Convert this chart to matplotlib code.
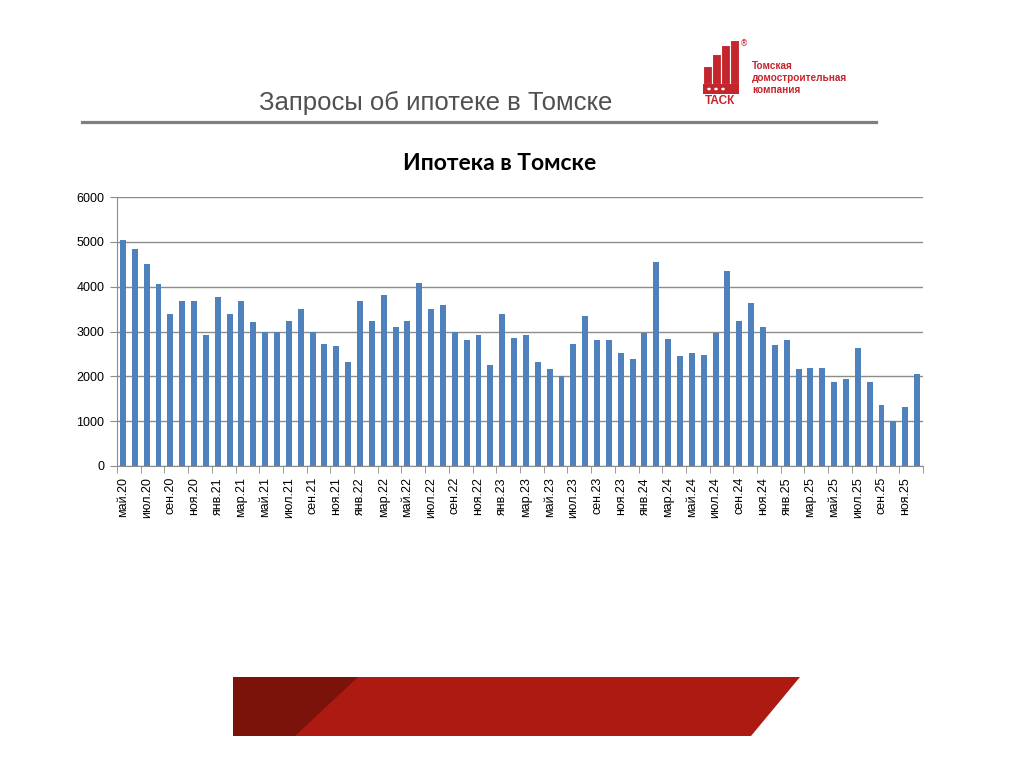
import numpy as np
import matplotlib
matplotlib.use("Agg")
import matplotlib.pyplot as plt
from matplotlib.patches import Polygon, Rectangle, Circle

# monthly mortgage requests, May 2020 - Dec 2025
months = ["янв", "фев", "мар", "апр", "май", "июн",
          "июл", "авг", "сен", "окт", "ноя", "дек"]
values = [5030, 4840, 4510, 4060, 3380, 3670, 3670, 2930,
          3770, 3380, 3690, 3220, 3000, 3000, 3230, 3510, 3000, 2730, 2680, 2320,
          3670, 3230, 3810, 3100, 3230, 4080, 3510, 3600, 3000, 2800, 2930, 2260,
          3400, 2860, 2930, 2320, 2160, 2000, 2730, 3340, 2800, 2810, 2510, 2380,
          2970, 4550, 2840, 2450, 2520, 2480, 2970, 4350, 3230, 3640, 3100, 2700,
          2800, 2160, 2190, 2190, 1870, 1940, 2630, 1870, 1360, 1000, 1320, 2060]
yticks = [0, 1000, 2000, 3000, 4000, 5000, 6000]
start_month, start_year = 4, 20  # май.20

labels = []
for i in range(len(values)):
    k = start_month + i
    labels.append(f"{months[k % 12]}.{start_year + k // 12}")

W, H = 1024, 767


def fx(px):
    return px / W


def fy(py):
    return 1 - py / H


fig = plt.figure(figsize=(W / 100, H / 100), dpi=100)
fig.patch.set_facecolor("white")

# headline and rule
fig.text(fx(436), fy(103), "Запросы об ипотеке в Томске", ha="center", va="center",
         fontsize=18.5, color="#505050", family="Liberation Sans")
fig.add_artist(plt.Line2D([fx(82), fx(876)], [fy(122), fy(122)], color="#7f7f7f",
                          lw=2.3, transform=fig.transFigure))

# chart
ax = fig.add_axes([fx(117), fy(466), fx(923 - 117), (466 - 197) / H])
x = np.arange(len(values))
ax.bar(x, values, width=0.5, color="#4F81BD", zorder=3)
ax.set_xlim(-0.5, len(values) - 0.5)
ax.set_ylim(0, 6000)
ax.set_yticks(yticks)
ax.set_yticklabels([str(v) for v in yticks], fontsize=9, family="Liberation Sans")
ax.yaxis.grid(True, color="#8c8c8c", lw=1, zorder=0)
ax.set_xticks(x[::2])
ax.set_xticklabels(labels[::2], rotation=90, fontsize=9, family="Liberation Sans")
ax.set_xticks(np.arange(-0.5, len(values), 2), minor=True)
ax.tick_params(axis="x", which="major", length=0, pad=8)
ax.tick_params(axis="x", which="minor", length=5, color="#8c8c8c")
ax.tick_params(axis="y", length=5, color="#8c8c8c", pad=4)
for s in ["top", "right"]:
    ax.spines[s].set_visible(False)
ax.spines["left"].set_color("#8c8c8c")
ax.spines["bottom"].set_color("#8c8c8c")

fig.text(fx(500), fy(163), "Ипотека в Томске", ha="center", va="center",
         fontsize=16.5, fontweight="bold", family="Lato")

# logo
red = "#C4262E"
cols = [(703, 712, 66), (712, 721, 54), (721, 730, 45), (730, 739, 40)]
for x0, x1, top in cols:
    fig.add_artist(Rectangle((fx(x0), fy(84)), fx(x1 - x0), (84 - top) / H,
                             transform=fig.transFigure, facecolor=red,
                             edgecolor="white", lw=0.8))
fig.add_artist(Rectangle((fx(703), fy(94)), fx(36), 10 / H, transform=fig.transFigure,
                         facecolor=red, edgecolor="none"))
for cx in [709, 716, 723]:
    fig.add_artist(Circle((fx(cx), fy(89)), 1.8 / W, transform=fig.transFigure,
                          facecolor="white", edgecolor="none"))
fig.text(fx(720), fy(101), "ТАСК", ha="center", va="center", fontsize=8.5,
         fontweight="bold", color=red, family="Liberation Sans")
fig.text(fx(744), fy(44), "®", ha="center", va="center", fontsize=6, color=red)
for i, line in enumerate(["Томская", "домостроительная", "компания"]):
    fig.text(fx(752), fy(66 + 12 * i), line, ha="left", va="center", fontsize=7.2,
             fontweight="bold", color=red, family="Liberation Sans")

# bottom banner
fig.add_artist(Polygon([(fx(233), fy(677)), (fx(800), fy(677)), (fx(751), fy(736)),
                        (fx(233), fy(736))], closed=True, transform=fig.transFigure,
                       facecolor="#AD1A12", edgecolor="none"))
fig.add_artist(Polygon([(fx(233), fy(677)), (fx(358), fy(677)), (fx(295), fy(736)),
                        (fx(233), fy(736))], closed=True, transform=fig.transFigure,
                       facecolor="#7B130B", edgecolor="none"))

fig.savefig("out.png", dpi=100)
